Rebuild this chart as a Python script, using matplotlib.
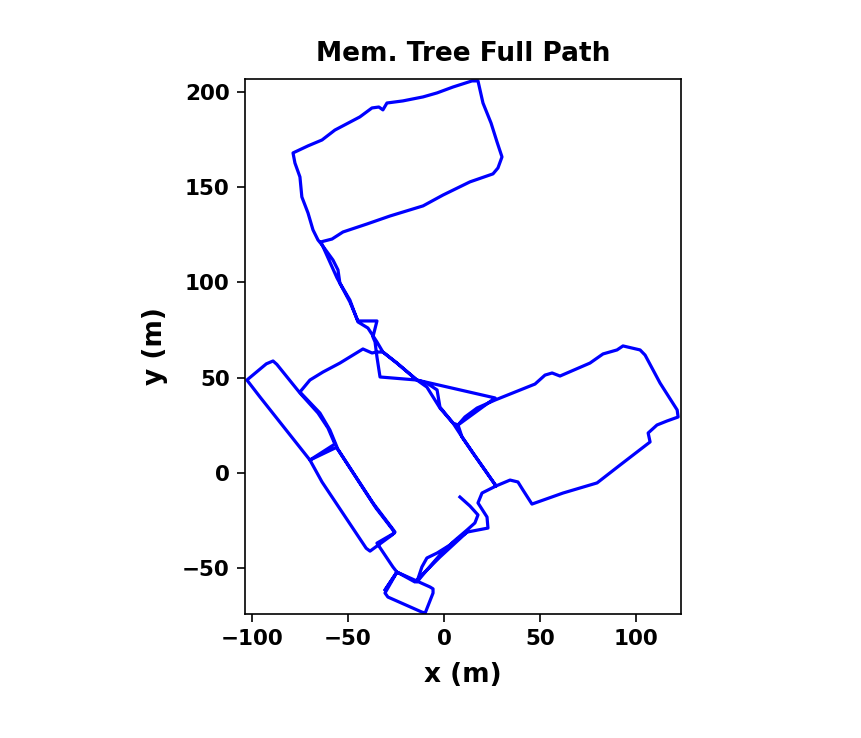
import matplotlib
matplotlib.use("Agg")
import matplotlib.pyplot as plt

# path, in metres
path_x = [8.3, 13.5, 17.7, 16.1, 12, 4.7, -2.1, -8.9, -14.1, -11.5, -8.9, -3.6, 3.1, 12, 22.9, 22.4, 17.7, 19.8, 27.1,
          34.4, 38.5, 41.1, 45.8, 62, 79.7, 91.7, 107.3, 106.3, 110.9, 116.1, 121.9, 121.4, 112.5, 104.7, 102.1, 93.2,
          90.1, 82.8, 76, 60.4, 56.3, 52.6, 47.4, 26.6, 17.2, 10.9, 7.3, 4.7, -2.1, -3.6, -8.9, -14.1, -24.5, -31.8,
          -34.9, -39.6, -44.8, -49, -54.2, -55.2, -57.8, -63.5, -65.6, -68.2, -70.8, -74, -75, -77.6, -78.6, -70.8,
          -63.5, -56.8, -43.8, -37.5, -33.9, -31.8, -29.7, -21.4, -10.9, -3.6, 4.7, 14.6, 17.7, 20.3, 24.5, 27.6, 30.2,
          28.1, 25.5, 13.5, -0.5, -10.9, -28.1, -40.1, -52.6, -58.3, -64.1, -59.4, -55.7, -49, -44.8, -34.9, -37,
          -35.9, -34.9, -33.3, -14.1, 26.6, 7.3, 9.4, 15.1, 22.4, 27.1, 22.4, 15.1, 9.4, 4.7, -2.1, -8.9, -14.1, -24.5,
          -31.8, -34.9, -37.5, -42.2, -47.4, -54.2, -63, -69.8, -75, -64.6, -59.4, -55.7, -69.8, -95.8, -102.6, -92.5,
          -89, -87, -75, -65.6, -60.4, -56.8, -69.8, -63.5, -40.5, -38.5, -27, -25.5, -26.6, -37, -55.7, -35.4, -26.6,
          -25.8, -34.9, -26.6, -24.5, -30.7, -29.2, -11.5, -9.8, -5.7, -5.7, -7.3, -24.5, -30.7, -24.5, -15.1, -2.1, 12]
path_y = [-12.6, -17.3, -22, -26.2, -29.9, -36.2, -43, -50.9, -57.2, -49.3, -44.6, -42, -37.8, -31, -28.9, -23.1, -15.7,
          -10.5, -6.8, -3.7, -4.7, -8.9, -16.3, -10.5, -5.2, 4.2, 16.3, 21, 25.2, 27.3, 29.4, 33.1, 47.2, 61.9, 64.6,
          66.7, 64.6, 62.5, 57.7, 50.9, 52.5, 51.4, 46.7, 38.3, 34.1, 29.4, 25.2, 26.2, 34.6, 43.6, 47.2, 48.8, 57.7,
          63.5, 68.8, 76.1, 79.3, 90.8, 99.7, 106.6, 111.8, 119.7, 122.3, 127.6, 136.5, 144.9, 155.4, 162.7, 168, 171.7,
          174.8, 180, 186.9, 191.6, 192.1, 190.6, 194.2, 195.3, 197.4, 199.5, 202.6, 205.8, 205.8, 194.2, 183.7, 173.8,
          165.9, 160.1, 157, 152.8, 145.9, 140.2, 134.9, 130.7, 126.5, 122.8, 121.3, 110.8, 102.4, 89.8, 79.8, 79.8,
          71.4, 68.8, 60.9, 50.4, 48.8, 39.4, 25.2, 18.9, 10.5, 0, -6.8, 0, 10.5, 18.9, 26.2, 34.1, 45.1, 48.8, 57.7, 63.5,
          63.5, 63, 65.1, 61.9, 57.7, 53, 48.8, 42.5, 31.5, 22.6, 13.6, 6.8, 39.9, 48.8, 57.3, 58.8, 57, 42, 31.5, 23.6,
          15.2, 6.8, -4.7, -39.5, -41, -32.5, -31, -29.5, -15.7, 13.1, -18.4, -29.9, -31.5, -36.8, -49.3, -52, -63, -65.1,
          -73, -73.5, -63, -60.8, -59.8, -52, -61.4, -52, -57.2, -44.1, -31]

xticks = [-100, -50, 0, 50, 100]
yticks = [-50, 0, 50, 100, 150, 200]

plt.rcParams['font.weight'] = 'bold'
plt.rcParams['axes.labelweight'] = 'bold'
plt.rcParams['axes.titleweight'] = 'bold'

fig = plt.figure(figsize=(8.61, 7.38), dpi=100)
ax = fig.add_axes([245 / 861, 1 - 614 / 738, 436 / 861, 535 / 738])
ax.plot(path_x, path_y, color='blue', lw=2.3)
ax.set_xlim(-103.6, 123.4)
ax.set_ylim(-74, 206.8)
ax.set_xticks(xticks)
ax.set_yticks(yticks)
ax.tick_params(labelsize=15.5, width=1.2, length=6, pad=5)
for s in ax.spines.values():
    s.set_linewidth(1.2)
ax.set_title('Mem. Tree Full Path', fontsize=19, pad=13)
ax.set_xlabel('x (m)', fontsize=19, labelpad=9)
ax.set_ylabel('y (m)', fontsize=19, labelpad=10)
fig.savefig('out.png', dpi=100)
